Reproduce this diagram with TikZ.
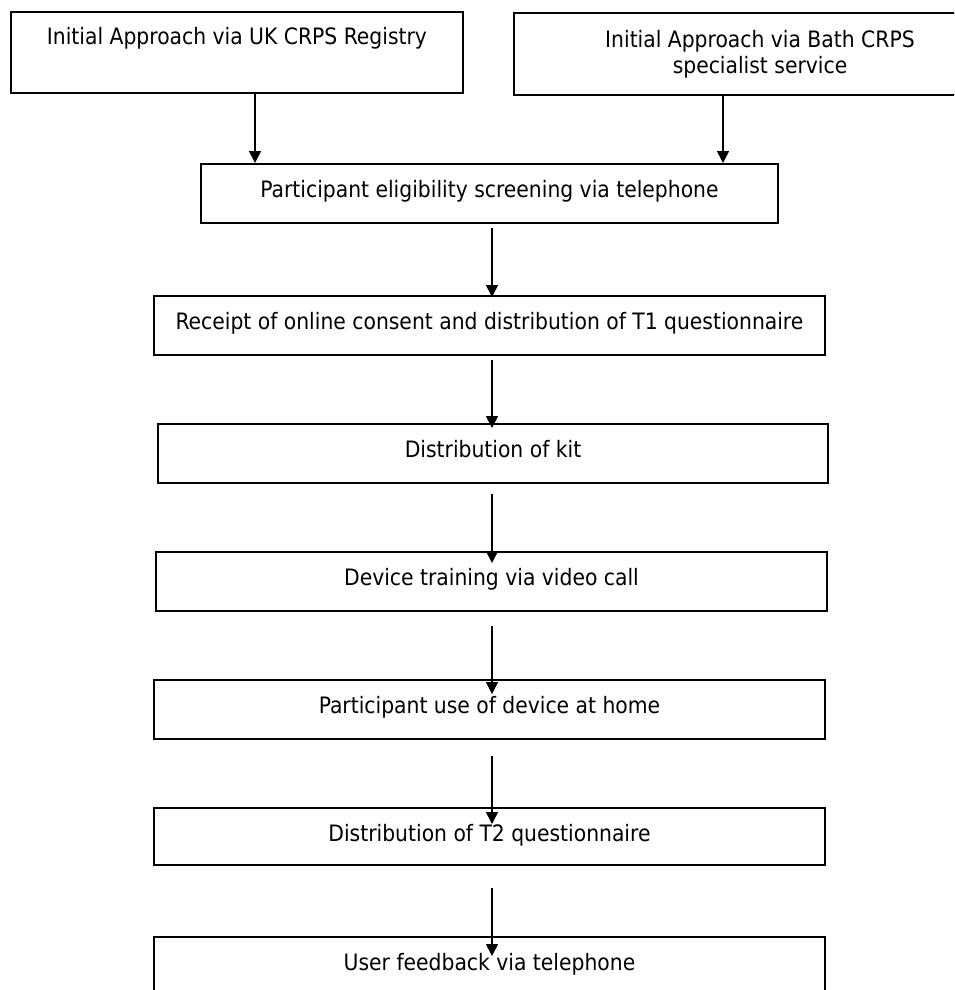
\documentclass[tikz,border=0pt]{standalone}
\usepackage{fontspec}
\setmainfont{DejaVu Sans Condensed}
\usetikzlibrary{arrows.meta}
\begin{document}
\begin{tikzpicture}[x=0.5pt,y=-0.5pt,
  box/.style={draw, line width=1pt, inner sep=0pt, align=center,
    font=\fontsize{11.3pt}{13pt}\selectfont},
  oneline/.style={text height=16.5pt, text depth=#1},
  arr/.style={line width=0.75pt, -{Triangle[length=6pt,width=6pt]}}]
\clip (0,0) rectangle (954,990);
\fill[white] (0,0) rectangle (954,990);
\coordinate (xl) at (255,0);
\coordinate (xr) at (723,0);
\coordinate (xm) at (492,0);
\node[box, oneline=24pt, minimum width=452*0.5pt] (b1) at (237,52.5)
  {Initial Approach via UK CRPS Registry};
\node[box, minimum width=492*0.5pt, minimum height=82*0.5pt] (b2) at (760,54)
  {Initial Approach via Bath CRPS\\specialist service};
\node[box, oneline=13pt, minimum width=577*0.5pt] (b3) at (489.5,193.5)
  {Participant eligibility screening via telephone};
\node[box, oneline=13pt, minimum width=671*0.5pt] (b4) at (489.5,325.5)
  {Receipt of online consent and distribution of T1 questionnaire};
\node[box, oneline=13pt, minimum width=670*0.5pt] (b5) at (493,453.5)
  {Distribution of kit};
\node[box, oneline=13pt, minimum width=671*0.5pt] (b6) at (491.5,581.5)
  {Device training via video call};
\node[box, oneline=13pt, minimum width=671*0.5pt] (b7) at (489.5,709.5)
  {Participant use of device at home};
\node[box, oneline=12pt, minimum width=671*0.5pt] (b8) at (489.5,836.5)
  {Distribution of T2 questionnaire};
\node[box, oneline=13pt, minimum width=671*0.5pt] (b9) at (489.5,966.5)
  {User feedback via telephone};
\draw[arr] (b1.south -| xl) -- (b3.north -| xl);
\draw[arr] (b2.south -| xr) -- (b3.north -| xr);
\draw[arr] (b3.south -| xm) ++(0,4) -- ++(0,69);
\draw[arr] (b4.south -| xm) ++(0,4) -- ++(0,68);
\draw[arr] (b5.south -| xm) ++(0,10) -- ++(0,69);
\draw[arr] (b6.south -| xm) ++(0,14) -- ++(0,68);
\draw[arr] (b7.south -| xm) ++(0,16) -- ++(0,68);
\draw[arr] (b8.south -| xm) ++(0,22) -- ++(0,68);
\end{tikzpicture}
\end{document}
